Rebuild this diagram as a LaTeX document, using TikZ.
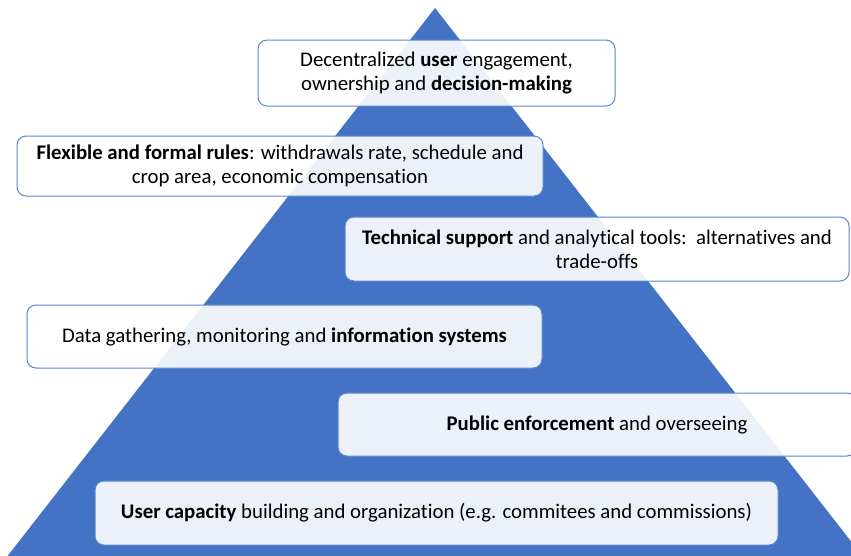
\documentclass[tikz,border=0pt]{standalone}
\usepackage{fontspec}
\setmainfont{Carlito}[Ligatures={NoCommon}]
\begin{document}
\begin{tikzpicture}[x=1pt,y=-1pt,
  layerbox/.style={draw=boxblue, line width=1pt, fill=white, fill opacity=0.9, text opacity=1,
    rounded corners=9pt, inner sep=0pt, font=\fontsize{20.8}{24}\selectfont, align=center},
]
\definecolor{pyrblue}{HTML}{4472C4}
\definecolor{boxblue}{HTML}{5B86D0}
\useasboundingbox (0,0) rectangle (851,555);
\clip (0,0) rectangle (851,555);
\fill[pyrblue] (435,8) -- (864,558) -- (6,558) -- cycle;
\node[layerbox, minimum width=357pt, minimum height=66pt] (l1) at (436.5,73)
  {Decentralized \textbf{user} engagement,\\ ownership and \textbf{decision-making}};
\node[layerbox, minimum width=526pt, minimum height=60pt] (l2) at (280,166)
  {\textbf{Flexible and formal rules}: withdrawals rate, schedule and\\ crop area, economic compensation};
\node[layerbox, minimum width=504pt, minimum height=64pt] (l3) at (597,249)
  {\textbf{Technical support} and analytical tools:\ \ alternatives and\\ trade-offs};
\node[layerbox, minimum width=515pt, minimum height=63pt] (l4) at (284.5,336.5)
  {Data gathering, monitoring and \textbf{information systems}};
\node[layerbox, minimum width=518pt, minimum height=63pt] (l5) at (597,424.5)
  {\textbf{Public enforcement} and overseeing};
\node[layerbox, minimum width=683pt, minimum height=64pt] (l6) at (436.5,513)
  {\textbf{User capacity} building and organization (e.g. commitees and commissions)};
\end{tikzpicture}
\end{document}
